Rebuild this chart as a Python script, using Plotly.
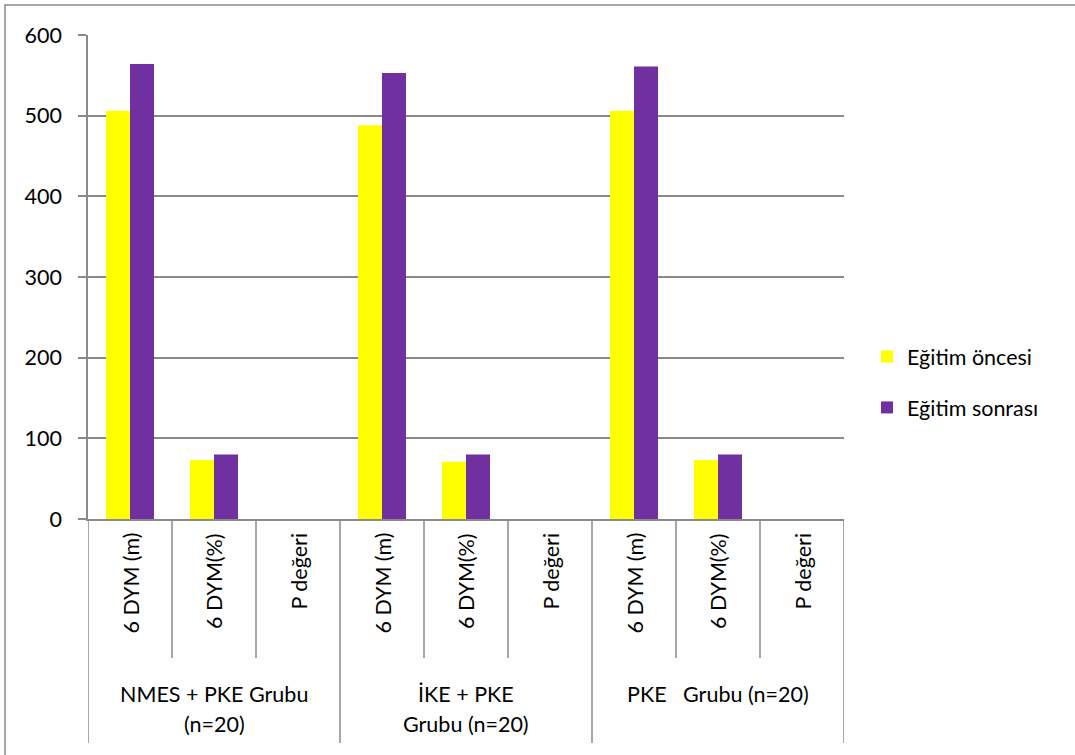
import plotly.graph_objects as go

# Category structure: three groups, each with three measures
groups = ["NMES + PKE Grubu", "İKE + PKE Grubu", "PKE Grubu"]
group_label_lines = [["NMES + PKE Grubu", "(n=20)"],
                     ["İKE + PKE", "Grubu (n=20)"],
                     ["PKE   Grubu (n=20)"]]
measures = ["6 DYM (m)", "6 DYM(%)", "P değeri"]

# Values per bar (None where there is no bar)
egitim_oncesi = [506, 73, None, 488, 71, None, 506, 73, None]
egitim_sonrasi = [564, 80, None, 553, 80, None, 561, 80, None]

y_ticks = [0, 100, 200, 300, 400, 500, 600]

W, H = 1075, 755
L, R, T, B = 88, 231, 35, 236
plot_w = W - L - R
plot_h = H - T - B
GRAY = "#8a8a8a"
FONT = "Lato"
FS = 21.5

n = len(groups) * len(measures)
xpos = list(range(n))

fig = go.Figure()
fig.add_trace(go.Bar(x=xpos, y=egitim_oncesi, name="Eğitim öncesi",
                     marker=dict(color="#ffff00", line=dict(width=0)),
                     legendgroup="a"))
fig.add_trace(go.Bar(x=xpos, y=egitim_sonrasi, name="Eğitim sonrası",
                     marker=dict(color="#7030a0", line=dict(width=0)),
                     legendgroup="b"))


def py(pixel_y):
    """Pixel row -> paper y coordinate."""
    return (H - B - pixel_y) / plot_h


def px(pixel_x):
    """Pixel column -> paper x coordinate."""
    return (pixel_x - L) / plot_w


shapes = []
annotations = []

# Dividers under the category axis: short between measures, long between groups
for k in range(n + 1):
    long_line = (k % len(measures) == 0)
    shapes.append(dict(type="line", xref="x", yref="paper",
                       x0=k - 0.5, x1=k - 0.5, y0=0,
                       y1=py(743 if long_line else 658),
                       line=dict(color=GRAY, width=1.5)))

# Rotated measure labels
for i in range(n):
    annotations.append(dict(x=i, xref="x", y=py(531), yref="paper",
                            text=measures[i % len(measures)], textangle=-90,
                            showarrow=False, xanchor="center", yanchor="top",
                            font=dict(family=FONT, size=FS, color="black")))

# Group labels
for g, lines in enumerate(group_label_lines):
    cx = g * len(measures) + (len(measures) - 1) / 2
    for j, line in enumerate(lines):
        annotations.append(dict(x=cx, xref="x", y=py(694 + 30 * j), yref="paper",
                                text=line, showarrow=False,
                                xanchor="center", yanchor="middle",
                                font=dict(family=FONT, size=FS, color="black")))

# Outer chart-area frame
shapes.append(dict(type="rect", xref="paper", yref="paper",
                   x0=px(5), x1=px(1200),
                   y0=py(800), y1=py(5),
                   line=dict(color=GRAY, width=1.5), fillcolor="rgba(0,0,0,0)",
                   layer="below"))

fig.update_layout(
    width=W, height=H,
    margin=dict(l=L, r=R, t=T, b=B, pad=0),
    paper_bgcolor="white", plot_bgcolor="white",
    barmode="group", bargap=0.4286, bargroupgap=0,
    font=dict(family=FONT, size=FS, color="black"),
    xaxis=dict(range=[-0.5, n - 0.5], showticklabels=False, showgrid=False,
               zeroline=False, showline=True, linecolor=GRAY, linewidth=1.5,
               ticks=""),
    yaxis=dict(range=[0, 600], tickvals=y_ticks, showgrid=True,
               gridcolor=GRAY, gridwidth=1.5, zeroline=False,
               showline=True, linecolor=GRAY, linewidth=1.5,
               ticks="outside", ticklen=8, tickcolor=GRAY, tickwidth=1.5,
               ticklabelstandoff=12,
               tickfont=dict(family=FONT, size=FS, color="black")),
    legend=dict(x=px(867), y=py(382), xanchor="left", yanchor="middle",
                font=dict(family=FONT, size=FS, color="black"),
                tracegroupgap=20, traceorder="grouped",
                bgcolor="rgba(0,0,0,0)", itemwidth=30),
    shapes=shapes,
    annotations=annotations,
)

fig.write_html("out.html")
